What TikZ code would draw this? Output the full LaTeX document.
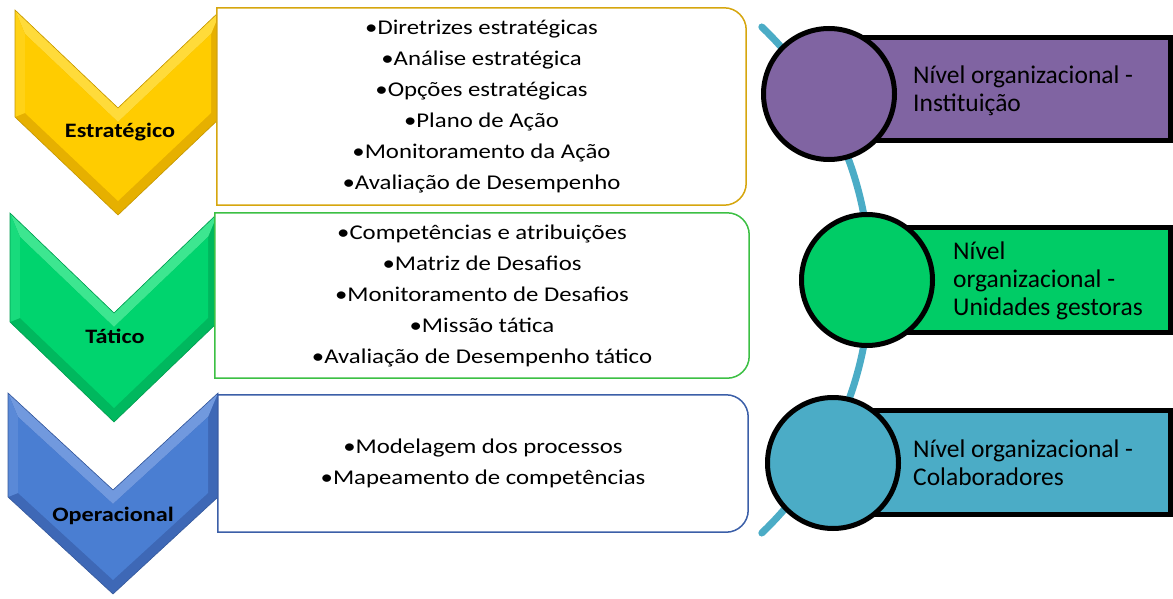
\documentclass[tikz,border=0pt]{standalone}
\usepackage{fontspec}
\setmainfont{Carlito}
\newfontfamily\widefont{Carlito}[FakeStretch=1.18]
\definecolor{yMain}{HTML}{FFCC00}
\definecolor{yLight}{HTML}{FFDB3A}
\definecolor{yDark}{HTML}{E6B000}
\definecolor{gMain}{HTML}{00D46E}
\definecolor{gLight}{HTML}{3DE690}
\definecolor{gDark}{HTML}{00B85E}
\definecolor{bMain}{HTML}{4A7ED2}
\definecolor{bLight}{HTML}{7199DE}
\definecolor{bDark}{HTML}{3E68B6}
\definecolor{yBorder}{HTML}{D6A60E}
\definecolor{gBorder}{HTML}{3CC044}
\definecolor{bBorder}{HTML}{3B5FA8}
\definecolor{purpleFill}{HTML}{8064A2}
\definecolor{greenFill}{HTML}{00CC66}
\definecolor{cyanFill}{HTML}{4BACC6}
\newcommand{\mychev}[8]{%
  % #1 cx, #2 top y, #3 half width, #4 arm drop, #5 thickness, #6 main, #7 light, #8 dark
  \fill[#8] ({#1-#3},#2) -- (#1,{#2+#4}) -- ({#1+#3},#2) -- ({#1+#3},{#2+#5})
    -- (#1,{#2+#5+#4}) -- ({#1-#3},{#2+#5}) -- cycle;
  \fill[#7] ({#1-#3},#2) -- (#1,{#2+#4}) -- ({#1+#3},#2) -- ({#1+#3-10},{#2+24})
    -- (#1,{#2+#4+14}) -- ({#1-#3+10},{#2+24}) -- cycle;
  \fill[#6!60!#7] ({#1-#3},#2) -- ({#1-#3+10},{#2+24}) -- ({#1-#3+10},{#2+#5-4}) -- ({#1-#3},{#2+#5}) -- cycle;
  \fill[#6] ({#1-#3+10},{#2+24}) -- (#1,{#2+#4+14}) -- ({#1+#3-10},{#2+24})
    -- ({#1+#3-10},{#2+#5-4}) -- (#1,{#2+#5+#4-14}) -- ({#1-#3+10},{#2+#5-4}) -- cycle;
  \draw[#8!85!black, line width=0.6] ({#1-#3},#2) -- (#1,{#2+#4}) -- ({#1+#3},#2) -- ({#1+#3},{#2+#5})
    -- (#1,{#2+#5+#4}) -- ({#1-#3},{#2+#5}) -- cycle;
}
\tikzset{
  boxtext/.style={align=center, inner sep=0pt, font=\widefont\fontsize{21}{31}\selectfont},
  chevlabel/.style={inner sep=0pt, font=\widefont\bfseries\fontsize{20.5}{24}\selectfont},
  levelcircle/.style={circle, draw=black, line width=5, minimum size=131, inner sep=0pt},
  levelrect/.style={rectangle, draw=black, line width=5, inner sep=0pt},
  leveltext/.style={align=left, anchor=west, inner sep=0pt, font=\fontsize{25.5}{28}\selectfont},
  arcline/.style={draw=cyanFill, line width=7, line cap=round},
}
\begin{document}
\begin{tikzpicture}[x=1pt,y=-1pt]
\useasboundingbox (0,0) rectangle (1173,599);
% chevrons
\mychev{118}{10}{103}{98}{107}{yMain}{yLight}{yDark}
\mychev{114}{213}{104}{100}{109}{gMain}{gLight}{gDark}
\mychev{113}{393}{105}{97}{104}{bMain}{bLight}{bDark}
\node[chevlabel] (l1) at (120,132) {Estratégico};
\node[chevlabel] (l2) at (115,336) {Tático};
\node[chevlabel] (l3) at (113,516) {Operacional};
% boxes
\node[boxtext, fill=white, minimum width=529, minimum height=197] (b1) at (481.5,106.5)
  {•Diretrizes estratégicas\\•Análise estratégica\\•Opções estratégicas\\•Plano de Ação\\•Monitoramento da Ação\\•Avaliação de Desempenho};
\draw[yBorder, line width=1.5] (b1.south west) -- (b1.north west) [rounded corners=22] -- (b1.north east) -- (b1.south east) [sharp corners] -- cycle;
\node[boxtext, fill=white, minimum width=534, minimum height=165] (b2) at (482,295.5)
  {•Competências e atribuições\\•Matriz de Desafios\\•Monitoramento de Desafios\\•Missão tática\\•Avaliação de Desempenho tático};
\draw[gBorder, line width=1.5] (b2.south west) -- (b2.north west) [rounded corners=22] -- (b2.north east) -- (b2.south east) [sharp corners] -- cycle;
\node[boxtext, fill=white, minimum width=530, minimum height=137] (b3) at (483,463.5)
  {•Modelagem dos processos\\•Mapeamento de competências};
\draw[bBorder, line width=1.5] (b3.south west) -- (b3.north west) [rounded corners=22] -- (b3.north east) -- (b3.south east) [sharp corners] -- cycle;
% arc
\draw[arcline] plot[domain=-46.3:46.3, samples=80] ({520+350*cos(\x)},{280+350*sin(\x)});
% level rectangles
\node[levelrect, fill=purpleFill, minimum width=308, minimum height=103] (r1) at (1016,89) {};
\node[levelrect, fill=greenFill, minimum width=290, minimum height=105] (r2) at (1025,280) {};
\node[levelrect, fill=cyanFill, minimum width=308, minimum height=104] (r3) at (1016,462.5) {};
% circles
\node[levelcircle, fill=purpleFill] (c1) at (829,94) {};
\node[levelcircle, fill=greenFill] (c2) at (867,280) {};
\node[levelcircle, fill=cyanFill] (c3) at (833,463) {};
% texts
\node[leveltext] (t1) at (913,91) {Nível organizacional -\\Instituição};
\node[leveltext] (t2) at (953,281) {Nível\\organizacional -\\Unidades gestoras};
\node[leveltext] (t3) at (913,462.5) {Nível organizacional -\\Colaboradores};
\end{tikzpicture}
\end{document}
